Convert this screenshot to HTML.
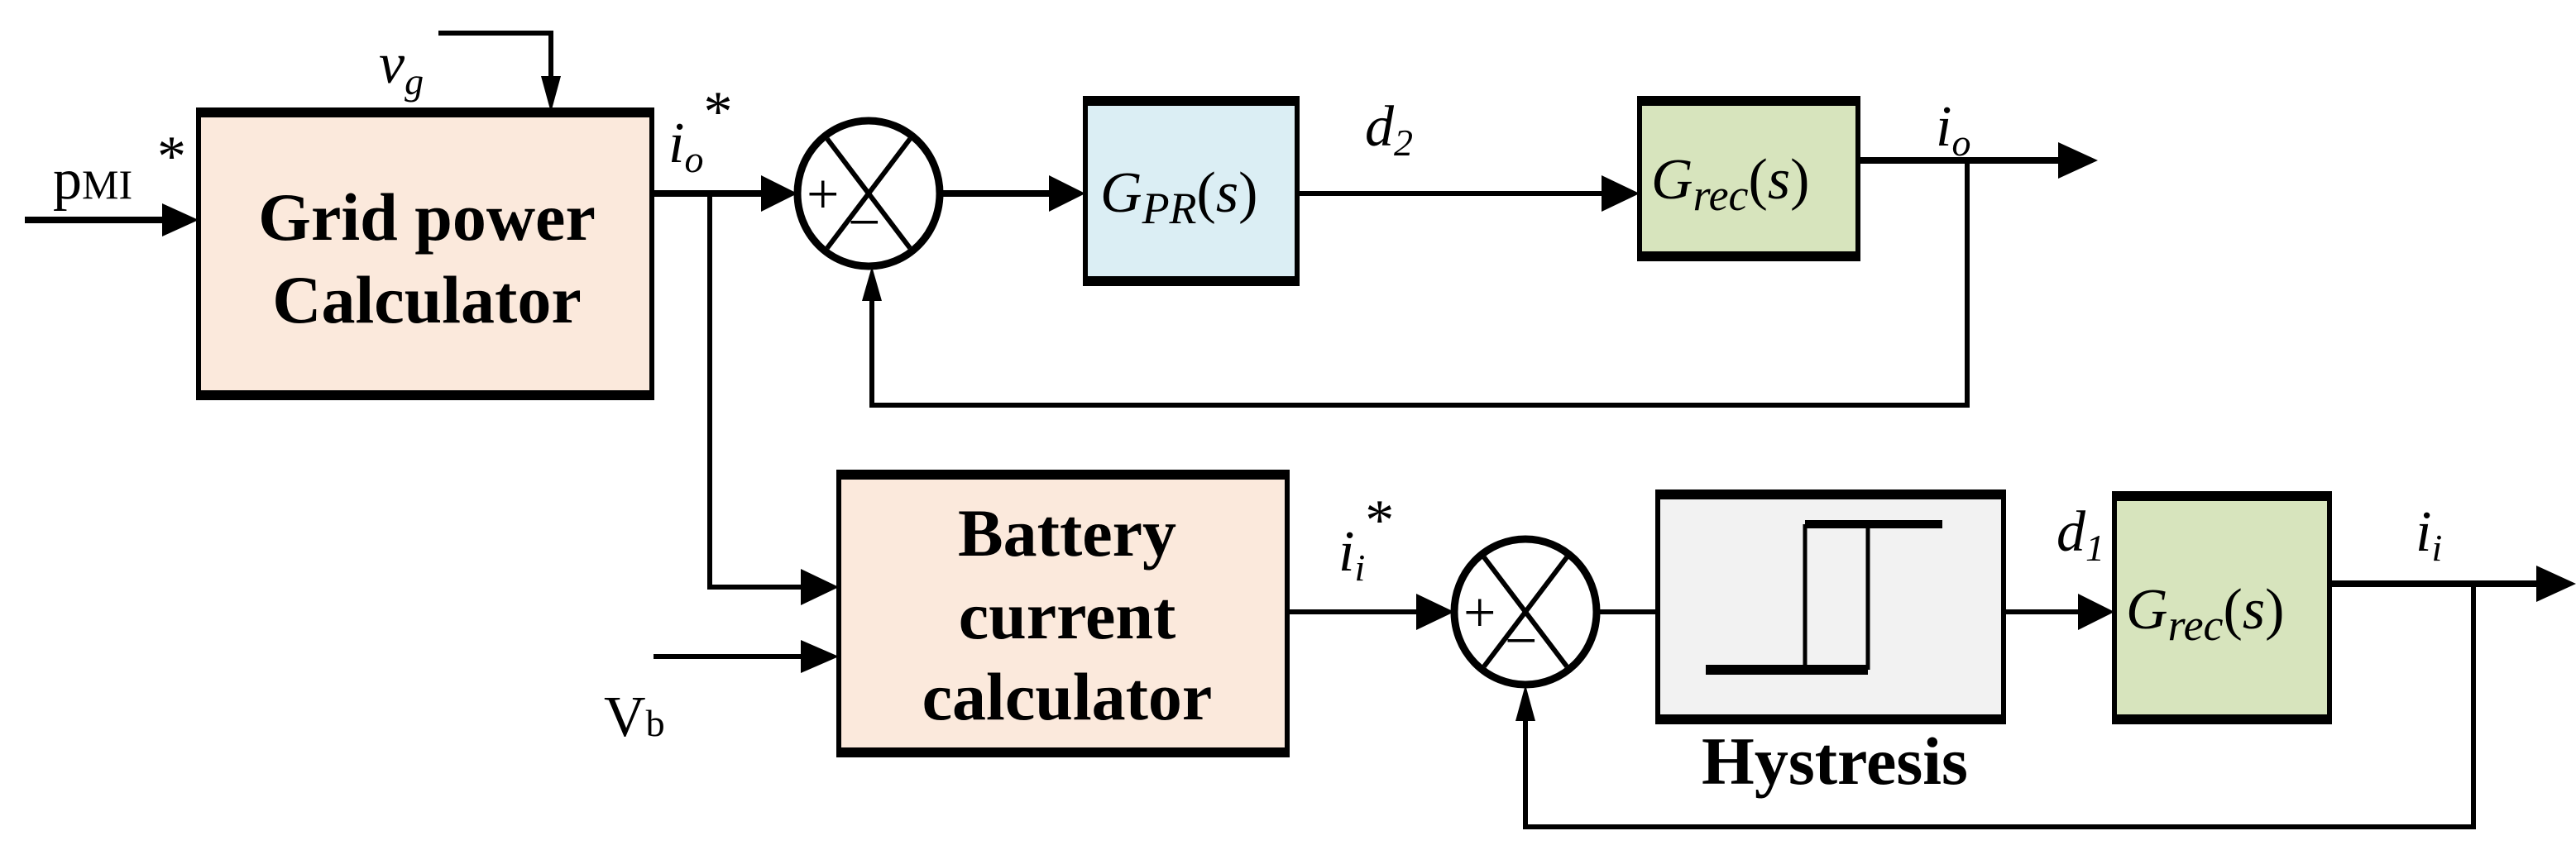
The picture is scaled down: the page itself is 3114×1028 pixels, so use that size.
<!DOCTYPE html>
<html><head><meta charset="utf-8"><style>
html,body{margin:0;padding:0;background:#fff;}
svg{display:block;}
.b{font-family:"Liberation Serif",serif;font-weight:bold;font-size:82px;text-anchor:middle;}
.m{font-family:"Liberation Serif",serif;font-style:italic;font-size:70px;}
.r{font-family:"Liberation Serif",serif;font-size:70px;}
</style></head><body>
<svg width="3114" height="1028" viewBox="0 0 3114 1028" xmlns="http://www.w3.org/2000/svg">
<g fill="none" stroke="#000" stroke-width="6">
<rect x="240" y="136" width="548" height="342" fill="#fbe9dc"/>
<line x1="237" y1="136" x2="791" y2="136" stroke-width="12"/>
<line x1="237" y1="478" x2="791" y2="478" stroke-width="12"/>
<rect x="1312" y="122" width="256" height="218" fill="#dbeef4"/>
<line x1="1309" y1="122" x2="1571" y2="122" stroke-width="12"/>
<line x1="1309" y1="340" x2="1571" y2="340" stroke-width="12"/>
<rect x="1982" y="122" width="264" height="188" fill="#d7e4bd"/>
<line x1="1979" y1="122" x2="2249" y2="122" stroke-width="12"/>
<line x1="1979" y1="310" x2="2249" y2="310" stroke-width="12"/>
<rect x="1014" y="574" width="542" height="336" fill="#fbe9dc"/>
<line x1="1011" y1="574" x2="1559" y2="574" stroke-width="12"/>
<line x1="1011" y1="910" x2="1559" y2="910" stroke-width="12"/>
<rect x="2004" y="598" width="418" height="272" fill="#f2f2f2"/>
<line x1="2001" y1="598" x2="2425" y2="598" stroke-width="12"/>
<line x1="2001" y1="870" x2="2425" y2="870" stroke-width="12"/>
<line x1="2182" y1="634" x2="2182" y2="810" stroke-width="5"/>
<line x1="2258" y1="634" x2="2258" y2="810" stroke-width="5"/>
<line x1="2062" y1="810" x2="2258" y2="810" stroke-width="12"/>
<line x1="2182" y1="634" x2="2348" y2="634" stroke-width="10"/>
<rect x="2556" y="600" width="260" height="270" fill="#d7e4bd"/>
<line x1="2553" y1="600" x2="2819" y2="600" stroke-width="12"/>
<line x1="2553" y1="870" x2="2819" y2="870" stroke-width="12"/>
<ellipse cx="1050" cy="234" rx="86" ry="88" fill="#fff" stroke-width="9"/>
<line x1="1000" y1="168" x2="1100" y2="300"/><line x1="1100" y1="168" x2="1000" y2="300"/>
<ellipse cx="1844" cy="740" rx="86" ry="88" fill="#fff" stroke-width="9"/>
<line x1="1794" y1="674" x2="1894" y2="806"/><line x1="1894" y1="674" x2="1794" y2="806"/>
<line x1="30" y1="266" x2="200" y2="266" stroke-width="8"/>
<polyline points="530,40 666,40 666,100"/>
<line x1="788" y1="234" x2="920" y2="234" stroke-width="8"/>
<line x1="1136" y1="234" x2="1270" y2="234" stroke-width="8"/>
<line x1="1568" y1="234" x2="1940" y2="234" stroke-width="6"/>
<line x1="2246" y1="194" x2="2490" y2="194" stroke-width="8"/>
<polyline points="2378,194 2378,490 1054,490 1054,362"/>
<polyline points="858,234 858,710 970,710"/>
<line x1="790" y1="794" x2="970" y2="794"/>
<line x1="1556" y1="740" x2="1712" y2="740" stroke-width="6"/>
<line x1="1930" y1="740" x2="2004" y2="740" stroke-width="6"/>
<line x1="2422" y1="740" x2="2514" y2="740" stroke-width="6"/>
<line x1="2816" y1="706" x2="3070" y2="706" stroke-width="8"/>
<polyline points="2990,706 2990,1000 1844,1000 1844,870"/>
</g>
<g fill="#000">
<polygon points="240,266 196,246 196,286"/>
<polygon points="666,136 654,92 678,92"/>
<polygon points="964,234 920,212 920,256"/>
<polygon points="1312,234 1268,212 1268,256"/>
<polygon points="1982,234 1936,212 1936,256"/>
<polygon points="2536,194 2488,172 2488,216"/>
<polygon points="1054,322 1042,364 1066,364"/>
<polygon points="1014,710 968,688 968,732"/>
<polygon points="1014,794 968,774 968,814"/>
<polygon points="1758,740 1712,718 1712,762"/>
<polygon points="2556,740 2512,718 2512,762"/>
<polygon points="3114,706 3066,684 3066,728"/>
<polygon points="1844,828 1832,872 1856,872"/>
</g>
<text class="b" x="516" y="290">Grid power</text>
<text class="b" x="516" y="390">Calculator</text>
<text class="b" x="1290" y="672">Battery</text>
<text class="b" x="1290" y="772">current</text>
<text class="b" x="1290" y="870">calculator</text>
<text class="b" x="2218" y="948">Hystresis</text>
<text class="r" x="64" y="240" font-size="80">p<tspan font-size="50">MI</tspan></text>
<text class="r" x="190" y="212" font-size="54">*</text>
<text class="m" x="458" y="100">v<tspan font-size="46" dy="14">g</tspan></text>
<text class="m" x="808" y="196">i<tspan font-size="46" dy="12">o</tspan><tspan class="r" font-size="54" font-style="normal" dy="-50">*</tspan></text>
<text class="r" x="975" y="258" font-size="56">+</text>
<text class="r" x="1025" y="292" font-size="56">−</text>
<text class="r" x="1769" y="764" font-size="56">+</text>
<text class="r" x="1819" y="798" font-size="56">−</text>
<text class="m" x="1330" y="256" font-size="82">G<tspan font-size="54" dy="14">PR</tspan><tspan dy="-14" font-style="normal">(</tspan>s<tspan font-style="normal">)</tspan></text>
<text class="m" x="1650" y="176">d<tspan font-size="46" dy="12">2</tspan></text>
<text class="m" x="1996" y="240" font-size="82">G<tspan font-size="54" dy="14">rec</tspan><tspan dy="-14" font-style="normal">(</tspan>s<tspan font-style="normal">)</tspan></text>
<text class="m" x="2340" y="176">i<tspan font-size="46" dy="12">o</tspan></text>
<text class="r" x="730" y="890">V<tspan font-size="46">b</tspan></text>
<text class="m" x="1618" y="690">i<tspan font-size="46" dy="12">i</tspan><tspan class="r" font-size="54" font-style="normal" dy="-50">*</tspan></text>
<text class="m" x="2486" y="666">d<tspan font-size="46" dy="12">1</tspan></text>
<text class="m" x="2570" y="760" font-size="82">G<tspan font-size="54" dy="14">rec</tspan><tspan dy="-14" font-style="normal">(</tspan>s<tspan font-style="normal">)</tspan></text>
<text class="m" x="2920" y="666">i<tspan font-size="46" dy="12">i</tspan></text>
</svg>
</body></html>
